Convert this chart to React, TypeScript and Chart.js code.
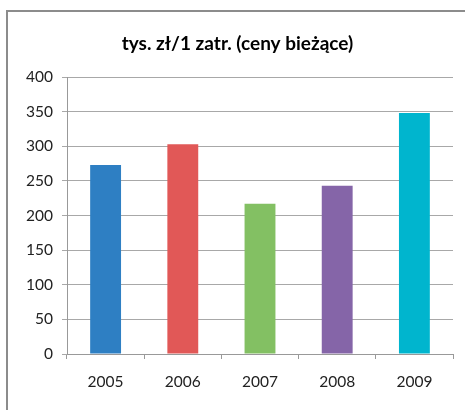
import React, { useEffect, useRef } from "react";
import { Chart, registerables } from "chart.js";

Chart.register(...registerables);

const categories = ["2005", "2006", "2007", "2008", "2009"];
const values = [273, 303, 217, 243, 348];
const barColors = ["#2E7FC3", "#E15857", "#83C063", "#8565A8", "#00B5CE"];
const titleText = "tys. zł/1 zatr. (ceny bieżące)";
const yMin = 0;
const yMax = 400;
const yStep = 50;

export default function App() {
  const ref = useRef<HTMLCanvasElement | null>(null);

  useEffect(() => {
    if (!ref.current) return;
    const chart = new Chart(ref.current, {
      type: "bar",
      data: {
        labels: categories,
        datasets: [
          {
            data: values,
            backgroundColor: barColors,
            borderWidth: 0,
            barPercentage: 0.4,
            categoryPercentage: 1,
          },
        ],
      },
      options: {
        responsive: false,
        animation: false,
        layout: { padding: { left: 22, right: 12, top: 0, bottom: 0 } },
        plugins: {
          legend: { display: false },
          tooltip: { enabled: false },
          title: {
            display: true,
            text: titleText,
            color: "#000",
            font: { family: "Lato", size: 19, weight: "bold", lineHeight: 1.2 },
            padding: { top: 32, bottom: 22.2 },
          },
        },
        scales: {
          x: {
            grid: {
              display: true,
              drawOnChartArea: false,
              drawTicks: true,
              tickLength: 5,
              color: "#999",
              offset: true,
            },
            border: { display: true, color: "#999", width: 1 },
            ticks: {
              color: "#222",
              font: { family: "Lato", size: 15.5 },
              padding: 14,
            },
            afterFit: (s: any) => {
              s.height = 56;
            },
          },
          y: {
            min: yMin,
            max: yMax,
            ticks: {
              stepSize: yStep,
              color: "#222",
              font: { family: "Lato", size: 15.5 },
              padding: 9,
            },
            grid: {
              display: true,
              drawOnChartArea: true,
              drawTicks: true,
              tickLength: 5,
              color: "#A8A8A8",
            },
            border: { display: true, color: "#999", width: 1 },
            afterFit: (s: any) => {
              s.width = 45;
            },
          },
        },
      },
    });
    return () => chart.destroy();
  }, []);

  return (
    <div
      style={{
        position: "absolute",
        left: 0,
        top: 0,
        width: 465,
        height: 410,
        overflow: "hidden",
        background: "#fff",
      }}
    >
      <div
        style={{
          position: "absolute",
          left: 6,
          top: 10,
          width: 600,
          height: 600,
          borderTop: "2px solid #8C8C8C",
          borderLeft: "2px solid #8C8C8C",
        }}
      />
      <canvas
        ref={ref}
        width={465}
        height={410}
        style={{ position: "absolute", left: 0, top: 0 }}
      />
    </div>
  );
}
